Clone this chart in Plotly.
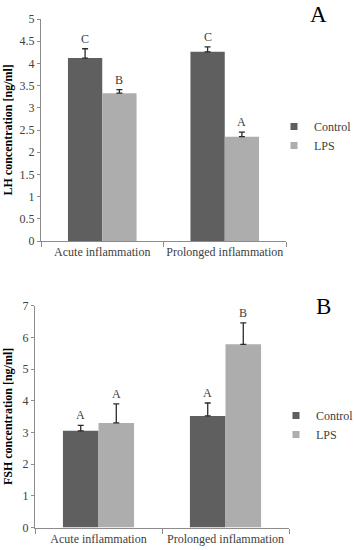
import plotly.graph_objects as go

categories = ["Acute inflammation", "Prolonged inflammation"]

lh_control = [4.12, 4.26]
lh_control_err = [0.21, 0.11]
lh_lps = [3.33, 2.35]
lh_lps_err = [0.08, 0.10]
lh_control_letters = ["C", "C"]
lh_lps_letters = ["B", "A"]

fsh_control = [3.05, 3.52]
fsh_control_err = [0.17, 0.41]
fsh_lps = [3.30, 5.78]
fsh_lps_err = [0.60, 0.68]
fsh_control_letters = ["A", "A"]
fsh_lps_letters = ["A", "B"]

series_names = ["Control", "LPS"]

C_DARK = "#5f5f5f"
C_LIGHT = "#adadad"
ERR_C = "#2b2b2b"
AX_C = "#8c8c8c"
TXT_C = "#404040"
FONT = "Liberation Serif, Times New Roman, serif"

W, H = 356, 550

fig = go.Figure()

panels = [
    dict(ctrl=lh_control, ce=lh_control_err, lps=lh_lps, le=lh_lps_err,
         cl=lh_control_letters, ll=lh_lps_letters,
         xa="x", ya="y", legend="legend", shift=17.2),
    dict(ctrl=fsh_control, ce=fsh_control_err, lps=fsh_lps, le=fsh_lps_err,
         cl=fsh_control_letters, ll=fsh_lps_letters,
         xa="x2", ya="y2", legend="legend2", shift=17.8),
]

annotations = []
for p in panels:
    for name, vals, errs, col, letters, sgn in [
        (series_names[0], p["ctrl"], p["ce"], C_DARK, p["cl"], -1),
        (series_names[1], p["lps"], p["le"], C_LIGHT, p["ll"], 1),
    ]:
        grp = p["legend"] + name
        fig.add_trace(go.Bar(
            x=categories, y=vals, name=name, marker_color=col,
            marker_line_width=0, xaxis=p["xa"], yaxis=p["ya"],
            showlegend=False, legendgroup=grp,
            error_y=dict(type="data", array=errs, arrayminus=[0] * len(errs),
                         symmetric=False, color=ERR_C, thickness=1.3, width=3),
        ))
        fig.add_trace(go.Scatter(
            x=[None], y=[None], mode="markers", name=name,
            marker=dict(symbol="square", size=7, color=col),
            xaxis=p["xa"], yaxis=p["ya"], legend=p["legend"], legendgroup=grp,
            showlegend=True,
        ))
        for c, v, e, t in zip(categories, vals, errs, letters):
            annotations.append(dict(
                x=c, y=v + e, xref=p["xa"], yref=p["ya"], text=t,
                showarrow=False, xshift=sgn * p["shift"], yanchor="bottom",
                yshift=1, font=dict(family=FONT, size=12, color=TXT_C),
            ))

def px_x(v):
    return v / W

def px_y(v):
    return 1 - v / H

# axis domains (pixels)
A_x = (41, 286); A_y = (19, 241)
B_x = (35, 289); B_y = (305.7, 527.5)

common_x = dict(type="category", showline=True, linecolor=AX_C, linewidth=1,
                ticks="outside", tickson="boundaries", ticklen=5, tickcolor=AX_C,
                showgrid=False, zeroline=False, tickangle=0, automargin=False,
                tickfont=dict(family=FONT, size=12, color=TXT_C))
common_y = dict(showline=True, linecolor=AX_C, linewidth=1, ticks="outside",
                ticklen=3, tickcolor=AX_C, showgrid=False, zeroline=False,
                automargin=False,
                tickfont=dict(family=FONT, size=12, color=TXT_C))

fig.update_layout(
    width=W, height=H, margin=dict(l=0, r=0, t=0, b=0, autoexpand=False),
    font=dict(family=FONT, size=12, color=TXT_C),
    paper_bgcolor="white", plot_bgcolor="white",
    barmode="group", bargap=0.44, bargroupgap=0,
    xaxis=dict(domain=[px_x(A_x[0]), px_x(A_x[1])], anchor="y", **common_x),
    yaxis=dict(domain=[px_y(A_y[1]), px_y(A_y[0])], anchor="x", range=[0, 5],
               dtick=0.5, **common_y),
    xaxis2=dict(domain=[px_x(B_x[0]), px_x(B_x[1])], anchor="y2", **common_x),
    yaxis2=dict(domain=[px_y(B_y[1]), px_y(B_y[0])], anchor="x2", range=[0, 7],
                dtick=1, **common_y),
    legend=dict(x=px_x(274), y=px_y(136), xanchor="left", yanchor="middle",
                bgcolor="rgba(0,0,0,0)",
                font=dict(family=FONT, size=12, color=TXT_C),
                tracegroupgap=0, itemclick=False),
    legend2=dict(x=px_x(276), y=px_y(425), xanchor="left", yanchor="middle",
                 bgcolor="rgba(0,0,0,0)",
                 font=dict(family=FONT, size=12, color=TXT_C),
                 tracegroupgap=0, itemclick=False),
)

annotations += [
    dict(x=px_x(7.5), y=px_y((A_y[0] + A_y[1]) / 2), xref="paper", yref="paper",
         text="<b>LH concentration [ng/ml]</b>", textangle=-90, showarrow=False,
         xanchor="center", yanchor="middle",
         font=dict(family=FONT, size=12, color="black")),
    dict(x=px_x(7.5), y=px_y((B_y[0] + B_y[1]) / 2), xref="paper", yref="paper",
         text="<b>FSH concentration [ng/ml]</b>", textangle=-90, showarrow=False,
         xanchor="center", yanchor="middle",
         font=dict(family=FONT, size=12, color="black")),
    dict(x=px_x(318), y=px_y(14), xref="paper", yref="paper", text="A",
         showarrow=False, xanchor="center", yanchor="middle",
         font=dict(family=FONT, size=23, color="black")),
    dict(x=px_x(323), y=px_y(306), xref="paper", yref="paper", text="B",
         showarrow=False, xanchor="center", yanchor="middle",
         font=dict(family=FONT, size=23, color="black")),
]
fig.update_layout(annotations=annotations)

fig.write_html("out.html", config={"displayModeBar": False},
               post_script="document.body.style.margin='0';document.body.style.padding='0';")
